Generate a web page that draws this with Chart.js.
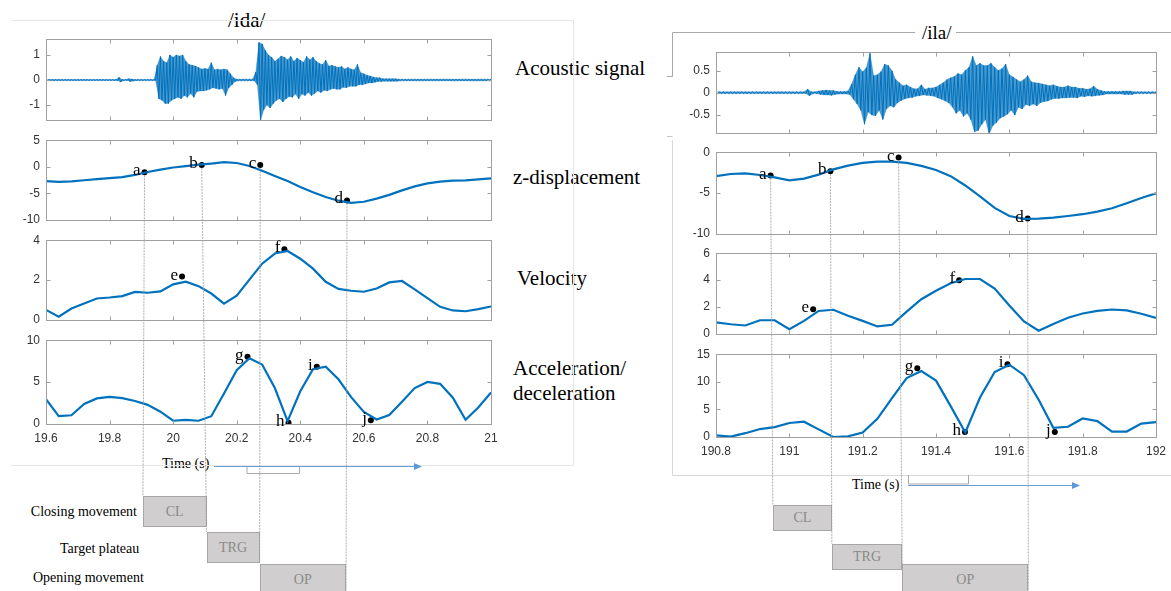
<!DOCTYPE html>
<html>
<head>
<meta charset="utf-8">
<script src="https://cdn.jsdelivr.net/npm/chart.js@4.4.1/dist/chart.umd.min.js"></script>
<style>
  body { margin: 0; width: 1171px; height: 591px; position: relative; background: #fff; overflow: hidden; font-family: "Liberation Serif", "Times New Roman", serif; }
  .t { position: absolute; white-space: nowrap; color: #000; line-height: 1; transform: translateY(-50%); }
  .box { position: absolute; box-sizing: border-box; background: #d0cece; border: 1.5px solid #a6a6a6; color: #8a8a8a; font-size: 14px; display: flex; align-items: center; justify-content: center; }
  svg { position: absolute; left: 0; top: 0; pointer-events: none; }
</style>
</head>
<body>
<div class="t" style="left:228px;top:20px;font-size:21px">/ida/</div>
<div class="t" style="left:922px;top:32px;font-size:19px">/ila/</div>
<div class="t" style="left:515px;top:68px;font-size:21px">Acoustic signal</div>
<div class="t" style="left:513px;top:177px;font-size:21px">z-displacement</div>
<div class="t" style="left:517px;top:278px;font-size:21px">Velocity</div>
<div class="t" style="left:513px;top:368px;font-size:21px">Acceleration/</div>
<div class="t" style="left:513px;top:393px;font-size:21px">deceleration</div>
<div class="t" style="left:162px;top:464px;font-size:14px">Time (s)</div>
<div class="t" style="left:852px;top:485px;font-size:14px">Time (s)</div>
<div class="t" style="right:1034px;top:512px;font-size:14px">Closing movement</div>
<div class="t" style="left:60px;top:549px;font-size:14px">Target plateau</div>
<div class="t" style="left:33px;top:578px;font-size:14px">Opening movement</div>

<script>
// ---- /ida/ (left) ----
const idaTime = [19.6, 19.64, 19.68, 19.72, 19.76, 19.8, 19.84, 19.88, 19.92, 19.96, 20, 20.04, 20.08, 20.12, 20.16, 20.2, 20.24, 20.28,
  20.32, 20.36, 20.4, 20.44, 20.48, 20.52, 20.56, 20.6, 20.64, 20.68, 20.72, 20.76, 20.8, 20.84, 20.88, 20.92, 20.96, 21];
const idaZ = [-2.73, -2.85, -2.75, -2.55, -2.35, -2.15, -1.95, -1.55, -1.0, -0.55, -0.15, 0.1, 0.4, 0.6, 0.85, 0.7, 0.15, -0.75,
  -1.75, -2.7, -3.8, -4.8, -5.7, -6.4, -6.8, -6.6, -6.0, -5.3, -4.45, -3.7, -3.15, -2.8, -2.62, -2.56, -2.4, -2.2];
const idaVel = [0.50, 0.16, 0.57, 0.82, 1.07, 1.12, 1.19, 1.40, 1.36, 1.43, 1.78, 1.92, 1.69, 1.32, 0.81, 1.21, 2.02, 2.82,
  3.33, 3.46, 3.07, 2.57, 1.91, 1.55, 1.46, 1.41, 1.57, 1.88, 1.95, 1.53, 1.09, 0.65, 0.47, 0.43, 0.54, 0.67];
const idaAcc = [2.97, 0.93, 1.04, 2.39, 3.05, 3.24, 3.09, 2.74, 2.28, 1.47, 0.39, 0.50, 0.39, 0.93, 3.63, 6.41, 7.84, 7.10,
  4.29, 0.35, 3.90, 6.53, 6.83, 5.33, 3.20, 1.43, 0.54, 1.08, 2.66, 4.29, 5.02, 4.79, 3.13, 0.50, 1.97, 3.75];
// acoustic envelope, one max/min pair every 10 ms from the start time
const idaSoundStart = 19.6, soundStep = 0.01;
const idaHi = [0.02, 0.02, 0.02, 0.02, 0.02, 0.02, 0.02, 0.02, 0.02, 0.02, 0.02, 0.02, 0.02, 0.02, 0.02, 0.02, 0.02, 0.02, 0.02, 0.02,
  0.02, 0.02, 0.02, 0.10, 0.02, 0.02, 0.05, 0.04, 0.02, 0.02, 0.02, 0.02, 0.02, 0.02, 0.02,
  0.59, 0.94, 0.75, 0.69, 1.0, 0.91, 1.0, 0.96, 1.0, 0.75, 0.62, 0.59, 0.56, 0.5, 0.44, 0.46, 0.44, 0.69, 0.41, 0.44, 0.41, 0.44, 0.41, 0.25, 0.09,
  0.03, 0.03, 0.03, 0.03, 0.03, 0.03,
  0.31, 1.5, 1.44, 1.19, 1.0, 0.91, 0.75, 0.84, 0.96, 0.91, 0.81, 0.94, 0.75, 0.88, 0.79, 0.71, 0.94, 0.81, 0.91, 0.75,
  0.66, 0.62, 0.79, 0.56, 0.59, 0.54, 0.5, 0.54, 0.44, 0.5, 0.44, 0.41, 0.62, 0.29, 0.25, 0.19, 0.16, 0.12, 0.09, 0.09,
  0.05, 0.05, 0.05, 0.05, 0.05,
  0.03, 0.03, 0.03, 0.03, 0.03, 0.03, 0.03, 0.03, 0.03, 0.03, 0.03, 0.03, 0.03, 0.03, 0.03, 0.03, 0.03, 0.03, 0.03, 0.03,
  0.03, 0.03, 0.03, 0.03, 0.03, 0.03, 0.03, 0.03, 0.03, 0.03];
const idaLo = [-0.02, -0.02, -0.02, -0.02, -0.02, -0.02, -0.02, -0.02, -0.02, -0.02, -0.02, -0.02, -0.02, -0.02, -0.02, -0.02, -0.02, -0.02, -0.02, -0.02,
  -0.02, -0.02, -0.02, -0.08, -0.02, -0.02, -0.06, -0.04, -0.02, -0.02, -0.02, -0.02, -0.02, -0.02, -0.02,
  -0.75, -0.81, -0.94, -0.94, -0.81, -0.75, -0.69, -0.75, -0.62, -0.69, -0.54, -0.69, -0.46, -0.44, -0.44, -0.41, -0.37, -0.31, -0.34, -0.37, -0.34, -0.62, -0.31, -0.19, -0.06,
  -0.03, -0.03, -0.03, -0.03, -0.03, -0.03,
  -0.19, -1.62, -1.19, -1.0, -1.12, -0.94, -0.81, -0.75, -0.88, -0.75, -0.66, -0.69, -0.56, -0.75, -0.56, -0.62, -0.5, -0.62, -0.54, -0.44,
  -0.5, -0.41, -0.44, -0.37, -0.34, -0.37, -0.37, -0.29, -0.31, -0.25, -0.25, -0.25, -0.19, -0.19, -0.16, -0.12, -0.12, -0.09, -0.06, -0.06,
  -0.05, -0.05, -0.05, -0.05, -0.05,
  -0.03, -0.03, -0.03, -0.03, -0.03, -0.03, -0.03, -0.03, -0.03, -0.03, -0.03, -0.03, -0.03, -0.03, -0.03, -0.03, -0.03, -0.03, -0.03, -0.03,
  -0.03, -0.03, -0.03, -0.03, -0.03, -0.03, -0.03, -0.03, -0.03, -0.03];
const idaZMarkT = [19.91, 20.09, 20.274, 20.547], idaZMarkV = [-1.05, 0.35, 0.35, -6.34];
const idaVelMarkT = [20.028, 20.35], idaVelMarkV = [2.17, 3.55];
const idaAccMarkT = [20.234, 20.363, 20.452, 20.622], idaAccMarkV = [8.03, 0.15, 6.83, 0.46];
const idaPhaseT = [19.905, 20.105, 20.272, 20.544];
const idaXTicks = [19.6, 19.8, 20, 20.2, 20.4, 20.6, 20.8, 21];

// ---- /ila/ (right) ----
const ilaTime = [190.8, 190.84, 190.88, 190.92, 190.96, 191, 191.04, 191.08, 191.12, 191.16, 191.2, 191.24, 191.28, 191.32, 191.36, 191.4,
  191.44, 191.48, 191.52, 191.56, 191.6, 191.64, 191.68, 191.72, 191.76, 191.8, 191.84, 191.88, 191.92, 191.96, 192];
const ilaZ = [-2.94, -2.67, -2.6, -2.79, -3.09, -3.44, -3.24, -2.75, -2.1, -1.64, -1.3, -1.15, -1.15, -1.3, -1.68, -2.18,
  -2.94, -4.08, -5.42, -6.83, -7.82, -8.17, -8.13, -8.02, -7.82, -7.6, -7.29, -6.87, -6.26, -5.61, -5.04];
const ilaVel = [0.85, 0.71, 0.62, 1.01, 1.01, 0.34, 0.96, 1.70, 1.79, 1.35, 0.96, 0.55, 0.67, 1.65, 2.57, 3.21,
  3.76, 4.08, 4.08, 3.37, 2.11, 0.92, 0.23, 0.73, 1.19, 1.51, 1.70, 1.81, 1.74, 1.49, 1.19];
const ilaAcc = [0.29, 0.06, 0.69, 1.44, 1.79, 2.54, 2.77, 1.38, 0.0, 0.12, 0.81, 3.29, 7.04, 10.67, 11.94, 10.21,
  5.6, 0.81, 7.16, 11.77, 13.1, 11.19, 6.75, 1.67, 1.85, 3.35, 2.89, 0.98, 0.98, 2.42, 2.71];
const ilaSoundStart = 190.8;
const ilaHi = [0.02, 0.02, 0.02, 0.02, 0.02, 0.02, 0.02, 0.02, 0.02, 0.02, 0.02, 0.02, 0.02, 0.02, 0.02, 0.02, 0.02, 0.02, 0.02, 0.02,
  0.02, 0.02, 0.02, 0.02, 0.02, 0.08, 0.02, 0.02, 0.04, 0.05, 0.06, 0.05, 0.05, 0.03, 0.03,
  0.03, 0.04, 0.2, 0.41, 0.58, 0.48, 0.57, 0.9, 0.39, 0.41, 0.48, 0.65, 0.62, 0.5, 0.3, 0.23, 0.16, 0.18, 0.13, 0.09,
  0.09, 0.18, 0.08, 0.11, 0.11, 0.13, 0.18, 0.23, 0.3, 0.34, 0.37, 0.44, 0.41, 0.51, 0.58, 0.83, 0.62, 0.67, 0.62, 0.62,
  0.67, 0.58, 0.51, 0.55, 0.65, 0.41, 0.36, 0.3, 0.25, 0.3, 0.39, 0.25, 0.23, 0.22, 0.2, 0.18, 0.16, 0.18, 0.15, 0.13,
  0.13, 0.16, 0.13, 0.13, 0.1, 0.1, 0.08, 0.09, 0.15, 0.08, 0.05,
  0.03, 0.03, 0.03, 0.03, 0.03, 0.04, 0.04, 0.04, 0.02, 0.02, 0.02, 0.02, 0.02, 0.02, 0.02];
const ilaLo = [-0.02, -0.02, -0.02, -0.02, -0.02, -0.02, -0.02, -0.02, -0.02, -0.02, -0.02, -0.02, -0.02, -0.02, -0.02, -0.02, -0.02, -0.02, -0.02, -0.02,
  -0.02, -0.02, -0.02, -0.02, -0.02, -0.07, -0.02, -0.02, -0.04, -0.05, -0.05, -0.06, -0.04, -0.03, -0.03,
  -0.03, -0.04, -0.15, -0.26, -0.4, -0.72, -0.44, -0.51, -0.53, -0.4, -0.61, -0.37, -0.3, -0.33, -0.23, -0.18, -0.14, -0.12, -0.11, -0.08,
  -0.07, -0.05, -0.06, -0.07, -0.08, -0.12, -0.15, -0.19, -0.23, -0.33, -0.47, -0.4, -0.54, -0.47, -0.61, -0.89, -0.86, -0.72, -0.61, -0.95,
  -0.75, -0.68, -0.58, -0.54, -0.49, -0.4, -0.51, -0.33, -0.37, -0.27, -0.3, -0.26, -0.3, -0.23, -0.2, -0.19, -0.15, -0.13, -0.13, -0.12,
  -0.12, -0.11, -0.11, -0.12, -0.08, -0.09, -0.07, -0.08, -0.07, -0.06, -0.05,
  -0.03, -0.03, -0.03, -0.03, -0.03, -0.04, -0.04, -0.04, -0.02, -0.02, -0.02, -0.02, -0.02, -0.02, -0.02];
const ilaZMarkT = [190.949, 191.112, 191.298, 191.65], ilaZMarkV = [-2.86, -2.33, -0.65, -8.13];
const ilaVelMarkT = [191.065, 191.463], ilaVelMarkV = [1.83, 3.99];
const ilaAccMarkT = [191.349, 191.479, 191.595, 191.724], ilaAccMarkV = [12.46, 0.92, 13.16, 0.92];
const ilaPhaseT = [190.955, 191.116, 191.308, 191.652];
const ilaXTicks = [190.8, 191, 191.2, 191.4, 191.6, 191.8, 192];

const zLetters = ['a', 'b', 'c', 'd'], velLetters = ['e', 'f'], accLetters = ['g', 'h', 'i', 'j'];
const phaseNames = ['CL', 'TRG', 'OP'];

const blue = '#0072BD';
Chart.defaults.font.family = '"Liberation Sans", Arial, sans-serif';

// MATLAB-like box with inward ticks, plus the point letters
const matBox = {
  id: 'matBox',
  afterDatasetsDraw(chart, args, opts) {
    const { ctx, chartArea: a, scales } = chart;
    ctx.save();
    ctx.strokeStyle = '#a0a0a0';
    ctx.lineWidth = 1;
    const L = Math.round(a.left) + 0.5, T = Math.round(a.top) + 0.5, R = Math.round(a.right) + 0.5, B = Math.round(a.bottom) + 0.5;
    ctx.strokeRect(L, T, R - L, B - T);
    ctx.beginPath();
    opts.xTicks.forEach(v => {
      const x = Math.round(scales.x.getPixelForValue(v)) + 0.5;
      ctx.moveTo(x, T); ctx.lineTo(x, T + 4);
      ctx.moveTo(x, B); ctx.lineTo(x, B - 4);
    });
    opts.yTicks.forEach(v => {
      const y = Math.round(scales.y.getPixelForValue(v)) + 0.5;
      ctx.moveTo(L, y); ctx.lineTo(L + 4, y);
      ctx.moveTo(R, y); ctx.lineTo(R - 4, y);
    });
    ctx.stroke();
    ctx.fillStyle = '#000';
    ctx.font = '17px "Liberation Serif", serif';
    ctx.textAlign = 'right';
    chart.data.datasets.forEach((ds, i) => {
      if (!ds.letters) return;
      chart.getDatasetMeta(i).data.forEach((p, j) => ctx.fillText(ds.letters[j], p.x - 4, p.y + 3));
    });
    ctx.restore();
  }
};

function series(ts, vs) { return ts.map((t, i) => ({ x: t, y: vs[i] })); }
function envelope(start, vals, offset) {
  return vals.map((v, i) => ({ x: start + i * soundStep + offset, y: v }));
}
function lineSet(data, w) {
  return { data, borderColor: blue, borderWidth: w, pointRadius: 0, tension: 0, fill: false };
}
// waveform: zigzag trace over a translucent band between the envelopes
function soundSets(start, hi, lo) {
  const zig = [];
  hi.forEach((h, i) => {
    const t = start + i * soundStep;
    zig.push({ x: t, y: h }, { x: t + soundStep / 2, y: lo[i] });
  });
  return [
    lineSet(zig, 1),
    { data: envelope(start, hi, 0), borderColor: 'rgba(0,114,189,0.45)', borderWidth: 0.6, pointRadius: 0, tension: 0, fill: '+1', backgroundColor: 'rgba(0,114,189,0.72)' },
    { data: envelope(start, lo, soundStep / 2), borderColor: 'rgba(0,114,189,0.45)', borderWidth: 0.6, pointRadius: 0, tension: 0, fill: false }
  ];
}
function markSet(ts, vs, letters) {
  return { data: series(ts, vs), showLine: false, pointRadius: 3, pointBackgroundColor: '#000', pointBorderColor: '#000', pointBorderWidth: 0, letters };
}

function makePlot(cfg) {
  const padL = 45, padR = 14, padT = 10, padB = cfg.showX ? 28 : 10;
  const cv = document.createElement('canvas');
  cv.width = cfg.w + padL + padR;
  cv.height = cfg.h + padT + padB;
  cv.style.cssText = `position:absolute;left:${cfg.left - padL}px;top:${cfg.top - padT}px;width:${cv.width}px;height:${cv.height}px`;
  document.body.appendChild(cv);
  const tickStyle = { color: '#333', font: { size: 12 }, callback: v => String(v) };
  const chart = new Chart(cv, {
    type: 'line',
    data: { datasets: cfg.datasets },
    options: {
      responsive: false,
      animation: false,
      events: [],
      layout: { padding: { left: 0, right: padR, top: padT, bottom: cfg.showX ? 0 : padB } },
      plugins: { legend: { display: false }, tooltip: { enabled: false }, matBox: { xTicks: cfg.xTicks, yTicks: cfg.yTicks } },
      scales: {
        x: {
          type: 'linear', min: cfg.xMin, max: cfg.xMax, display: cfg.showX,
          grid: { display: false, drawTicks: false }, border: { display: false },
          afterBuildTicks: s => { s.ticks = cfg.xTicks.map(v => ({ value: v })); },
          afterFit: s => { s.height = cfg.showX ? padB : 0; },
          ticks: Object.assign({ padding: 7, maxRotation: 0, autoSkip: false }, tickStyle)
        },
        y: {
          type: 'linear', min: cfg.yMin, max: cfg.yMax,
          grid: { display: false, drawTicks: false }, border: { display: false },
          afterBuildTicks: s => { s.ticks = cfg.yTicks.map(v => ({ value: v })); },
          afterFit: s => { s.width = padL; },
          ticks: Object.assign({ padding: 6 }, tickStyle)
        }
      }
    },
    plugins: [matBox]
  });
  chart.$left = cfg.left - padL;
  chart.$top = cfg.top - padT;
  return chart;
}

// left column
const L = { left: 46, w: 445, xMin: 19.6, xMax: 21, xTicks: idaXTicks };
makePlot(Object.assign({}, L, { top: 36, h: 87, yMin: -1.59, yMax: 1.63, yTicks: [-1, 0, 1],
  datasets: soundSets(idaSoundStart, idaHi, idaLo) }));
const idaZChart = makePlot(Object.assign({}, L, { top: 137, h: 86, yMin: -10, yMax: 5, yTicks: [-10, -5, 0, 5],
  datasets: [lineSet(series(idaTime, idaZ), 2.2), markSet(idaZMarkT, idaZMarkV, zLetters)] }));
makePlot(Object.assign({}, L, { top: 237, h: 86, yMin: 0, yMax: 4, yTicks: [0, 2, 4],
  datasets: [lineSet(series(idaTime, idaVel), 2.2), markSet(idaVelMarkT, idaVelMarkV, velLetters)] }));
makePlot(Object.assign({}, L, { top: 337, h: 87, yMin: 0, yMax: 10, yTicks: [0, 5, 10], showX: true,
  datasets: [lineSet(series(idaTime, idaAcc), 2.2), markSet(idaAccMarkT, idaAccMarkV, accLetters)] }));

// right column
const R = { left: 716, w: 443, xMin: 190.8, xMax: 192, xTicks: ilaXTicks };
makePlot(Object.assign({}, R, { top: 49, h: 87, yMin: -0.915, yMax: 0.925, yTicks: [-0.5, 0, 0.5],
  datasets: soundSets(ilaSoundStart, ilaHi, ilaLo) }));
const ilaZChart = makePlot(Object.assign({}, R, { top: 149, h: 88, yMin: -10, yMax: 0, yTicks: [-10, -5, 0],
  datasets: [lineSet(series(ilaTime, ilaZ), 2.2), markSet(ilaZMarkT, ilaZMarkV, zLetters)] }));
makePlot(Object.assign({}, R, { top: 250, h: 87, yMin: 0, yMax: 6, yTicks: [0, 2, 4, 6],
  datasets: [lineSet(series(ilaTime, ilaVel), 2.2), markSet(ilaVelMarkT, ilaVelMarkV, velLetters)] }));
makePlot(Object.assign({}, R, { top: 351, h: 86, yMin: 0, yMax: 15, yTicks: [0, 5, 10, 15], showX: true,
  datasets: [lineSet(series(ilaTime, ilaAcc), 2.2), markSet(ilaAccMarkT, ilaAccMarkV, accLetters)] }));

// overlay: frames, guide lines, phase boxes, time arrows
const NS = 'http://www.w3.org/2000/svg';
const svg = document.createElementNS(NS, 'svg');
svg.setAttribute('width', 1171);
svg.setAttribute('height', 591);
document.body.appendChild(svg);
function el(tag, attrs) {
  const e = document.createElementNS(NS, tag);
  for (const k in attrs) e.setAttribute(k, attrs[k]);
  svg.appendChild(e);
  return e;
}

// figure frames
el('polyline', { points: '11,20.5 573.5,20.5 573.5,465.5 11,465.5', fill: 'none', stroke: '#e6e6e6', 'stroke-width': 1 });
el('polyline', { points: '667,76.5 672.5,76.5 672.5,32.5 915,32.5', fill: 'none', stroke: '#a8a8a8', 'stroke-width': 1 });
el('line', { x1: 956, y1: 32.5, x2: 1171, y2: 32.5, stroke: '#a8a8a8', 'stroke-width': 1 });
el('polyline', { points: '667,136.5 672.5,136.5', fill: 'none', stroke: '#c8c8c8', 'stroke-width': 1 });
el('polyline', { points: '672.5,140 672.5,475.5 1171,475.5', fill: 'none', stroke: '#d8d8d8', 'stroke-width': 1 });

function phases(zChart, markT, markV, phaseT, lineEnds, boxRows) {
  const xs = zChart.scales.x, ys = zChart.scales.y;
  const px = t => zChart.$left + xs.getPixelForValue(t);
  markT.forEach((t, k) => {
    el('line', { x1: px(t), y1: zChart.$top + ys.getPixelForValue(markV[k]) + 3, x2: px(phaseT[k]), y2: lineEnds[k],
      stroke: '#9a9a9a', 'stroke-width': 0.8, 'stroke-dasharray': '2 1' });
  });
  phaseNames.forEach((name, k) => {
    const d = document.createElement('div');
    d.className = 'box';
    const x0 = px(phaseT[k]), x1 = px(phaseT[k + 1]);
    d.style.cssText = `left:${x0}px;top:${boxRows[k][0]}px;width:${x1 - x0}px;height:${boxRows[k][1] - boxRows[k][0]}px`;
    d.textContent = name;
    document.body.insertBefore(d, svg);
  });
}
phases(idaZChart, idaZMarkT, idaZMarkV, idaPhaseT, [496, 532, 564, 591], [[496, 527], [532, 563], [564, 595]]);
phases(ilaZChart, ilaZMarkT, ilaZMarkV, ilaPhaseT, [505, 544, 564, 591], [[505, 531], [544, 570], [564, 595]]);

// time brackets and arrows
el('polyline', { points: '247,466 247,473.5 299.5,473.5 299.5,466', fill: 'none', stroke: '#a8a8a8', 'stroke-width': 1 });
el('polyline', { points: '908.5,475 908.5,484 968.5,484 968.5,475', fill: 'none', stroke: '#a8a8a8', 'stroke-width': 1 });
el('line', { x1: 214, y1: 466.5, x2: 415, y2: 466.5, stroke: '#6a9fd4', 'stroke-width': 1 });
el('polygon', { points: '414,463 422,466.5 414,470', fill: '#5b9bd5' });
el('line', { x1: 908, y1: 485.5, x2: 1073, y2: 485.5, stroke: '#6a9fd4', 'stroke-width': 1 });
el('polygon', { points: '1072,482 1080,485.5 1072,489', fill: '#5b9bd5' });
</script>
</body>
</html>
